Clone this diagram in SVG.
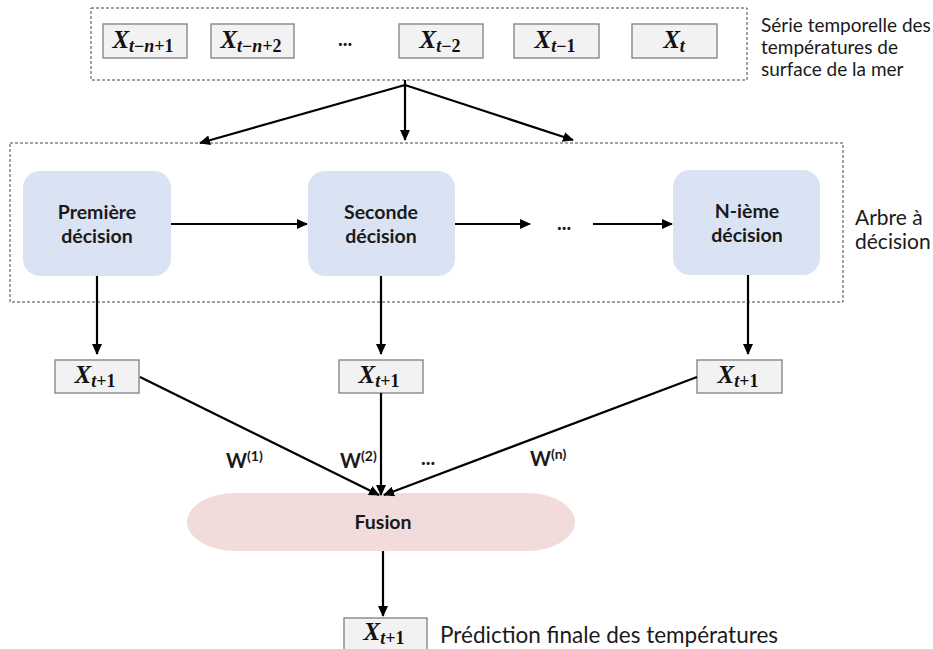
<svg xmlns="http://www.w3.org/2000/svg" width="933" height="649" viewBox="0 0 933 649">
<defs>
<marker id="ah" markerUnits="userSpaceOnUse" markerWidth="11" markerHeight="10" refX="10" refY="5" orient="auto">
<path d="M0,0 L11,5 L0,10 z" fill="#000"/>
</marker>
<style>
.dash{fill:none;stroke:#444;stroke-width:1;stroke-dasharray:3 2}
.vb{fill:#f2f2f2;stroke:#7f7f7f;stroke-width:1.3}
.dec{fill:#dae3f3}
.fus{fill:#f2dcdb}
.c{fill:none;stroke:#000;stroke-width:2.2}
.ca{fill:none;stroke:#000;stroke-width:2.2;marker-end:url(#ah)}
.m{font-family:"Liberation Serif","DejaVu Serif",serif;font-weight:bold;font-size:25px;fill:#111;text-anchor:middle}
.it{font-style:italic}
.sb{font-size:18px}
.bt{font-family:Lato,"Liberation Sans",sans-serif;font-weight:bold;font-size:19.5px;fill:#1a1a1a;text-anchor:middle}
.lb{font-family:Lato,"Liberation Sans",sans-serif;font-size:19px;fill:#1a1a1a}
.w{font-family:Lato,"Liberation Sans",sans-serif;font-weight:bold;font-size:20px;fill:#1a1a1a}
.sup{font-size:14px}
</style>
</defs>

<g id="input-series">
<rect class="dash" x="91" y="8" width="656" height="72"/>
<g id="x-t-n1"><rect class="vb" x="103" y="24" width="84" height="34"/>
<text class="m" x="143" y="48"><tspan class="it">X</tspan><tspan class="sb" dy="4"><tspan class="it">t</tspan>−<tspan class="it">n</tspan>+1</tspan></text></g>
<g id="x-t-n2"><rect class="vb" x="211" y="24" width="83" height="34"/>
<text class="m" x="251" y="48"><tspan class="it">X</tspan><tspan class="sb" dy="4"><tspan class="it">t</tspan>−<tspan class="it">n</tspan>+2</tspan></text></g>
<text class="w" x="345" y="46" text-anchor="middle">...</text>
<g id="x-t-2"><rect class="vb" x="399" y="24" width="84" height="34"/>
<text class="m" x="440" y="48"><tspan class="it">X</tspan><tspan class="sb" dy="4"><tspan class="it">t</tspan>−2</tspan></text></g>
<g id="x-t-1"><rect class="vb" x="514" y="24" width="85" height="34"/>
<text class="m" x="555" y="48"><tspan class="it">X</tspan><tspan class="sb" dy="4"><tspan class="it">t</tspan>−1</tspan></text></g>
<g id="x-t"><rect class="vb" x="632" y="24" width="85" height="34"/>
<text class="m" x="674" y="48"><tspan class="it">X</tspan><tspan class="sb it" dy="4">t</tspan></text></g>
<text class="lb" x="761" y="32">Série temporelle des</text>
<text class="lb" x="761" y="54">températures de</text>
<text class="lb" x="761" y="76">surface de la mer</text>
</g>

<g id="decision-trees">
<rect class="dash" x="10" y="143" width="833" height="159"/>
<text class="lb" x="855" y="225" style="font-size:21px">Arbre à</text>
<text class="lb" x="855" y="249" style="font-size:21px">décision</text>
</g>

<g id="tree1"><rect class="dec" x="23" y="171" width="148" height="105" rx="17"/>
<text class="bt" x="97" y="219">Première</text><text class="bt" x="97" y="243">décision</text></g>
<g id="tree2"><rect class="dec" x="308" y="171" width="147" height="105" rx="17"/>
<text class="bt" x="381" y="219">Seconde</text><text class="bt" x="381" y="243">décision</text></g>
<text class="w" x="564" y="230" text-anchor="middle">...</text>
<g id="treeN"><rect class="dec" x="673" y="170" width="147" height="105" rx="17"/>
<text class="bt" x="747" y="218">N-ième</text><text class="bt" x="747" y="242">décision</text></g>

<g id="out1"><rect class="vb" x="55" y="360" width="84" height="33"/>
<text class="m" x="95" y="383"><tspan class="it">X</tspan><tspan class="sb" dy="4"><tspan class="it">t</tspan>+1</tspan></text></g>
<g id="out2"><rect class="vb" x="339" y="360" width="84" height="33"/>
<text class="m" x="379" y="383"><tspan class="it">X</tspan><tspan class="sb" dy="4"><tspan class="it">t</tspan>+1</tspan></text></g>
<g id="outN"><rect class="vb" x="697" y="360" width="85" height="33"/>
<text class="m" x="738" y="383"><tspan class="it">X</tspan><tspan class="sb" dy="4"><tspan class="it">t</tspan>+1</tspan></text></g>

<g id="fusion"><rect class="fus" x="187" y="493" width="388" height="58" rx="48" ry="29"/>
<text class="bt" x="383" y="529">Fusion</text></g>

<g id="final"><rect class="vb" x="344" y="618" width="83" height="32"/>
<text class="m" x="384" y="640"><tspan class="it">X</tspan><tspan class="sb" dy="4"><tspan class="it">t</tspan>+1</tspan></text>
<text class="lb" x="440" y="643" style="font-size:22.5px">Prédiction finale des températures</text></g>

<g id="weights">
<text class="w" x="226" y="468">W<tspan class="sup" dy="-7">(1)</tspan></text>
<text class="w" x="340" y="468">W<tspan class="sup" dy="-7">(2)</tspan></text>
<text class="w" x="428" y="465" text-anchor="middle">...</text>
<text class="w" x="530" y="466">W<tspan class="sup" dy="-7">(n)</tspan></text>
</g>

<g id="connectors">
<line class="c" x1="405" y1="80" x2="405" y2="85"/>
<line class="ca" x1="405" y1="85" x2="200" y2="143"/>
<line class="ca" x1="405" y1="85" x2="405" y2="140"/>
<line class="ca" x1="405" y1="85" x2="573" y2="140"/>
<line class="ca" x1="171" y1="224" x2="307" y2="224"/>
<line class="ca" x1="455" y1="224" x2="530" y2="224"/>
<line class="ca" x1="593" y1="224" x2="672" y2="224"/>
<line class="ca" x1="97" y1="276" x2="97" y2="354"/>
<line class="ca" x1="381" y1="276" x2="381" y2="354"/>
<line class="ca" x1="748" y1="275" x2="748" y2="354"/>
<line class="ca" x1="140" y1="377" x2="379" y2="495"/>
<line class="ca" x1="381" y1="393" x2="381" y2="495"/>
<line class="ca" x1="697" y1="377" x2="384" y2="495"/>
<line class="ca" x1="383" y1="551" x2="383" y2="616"/>
</g>
</svg>
